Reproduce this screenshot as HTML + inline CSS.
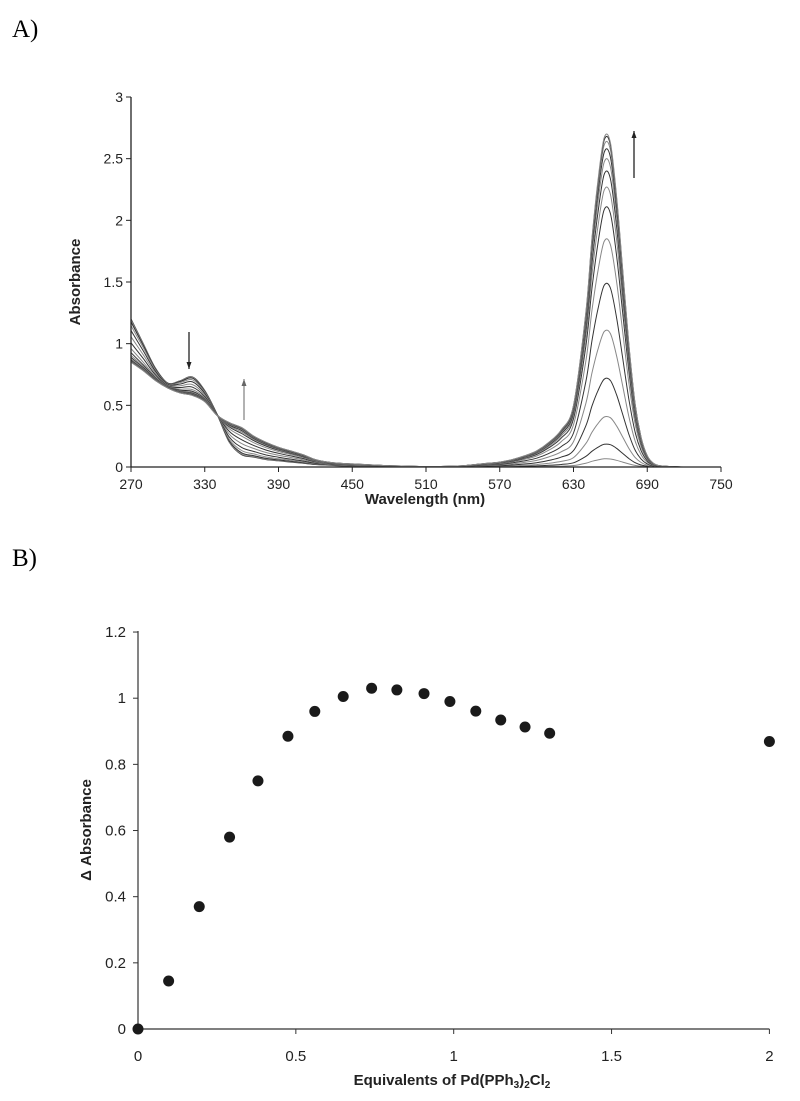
<!DOCTYPE html>
<html><head><meta charset="utf-8"><style>
body{margin:0;background:#fff;}
svg{display:block;font-family:"Liberation Sans",Arial,sans-serif;}
</style></head><body>
<svg width="800" height="1101" viewBox="0 0 800 1101" id="fig">
<text x="12" y="37" font-family="Liberation Serif,serif" font-size="25">A)</text>
<text x="12" y="566" font-family="Liberation Serif,serif" font-size="25">B)</text>
<g id="chartA"></g>
<g id="chartB"></g>
</svg>
<script>
const wavelengths=[270,280,290,300,310,320,330,340,350,360,370,380,390,400,410,420,430,440,450,460,470,480,490,500,510,520,530,540,550,560,570,580,590,600,610,620,630,640,645,650,655,660,665,670,675,680,685,690,695,700,710,720,750];
const startSpectrum=[1.2,1.0,0.8,0.68,0.7,0.73,0.62,0.43,0.2,0.1,0.08,0.06,0.05,0.04,0.03,0.02,0.015,0.01,0.008,0.006,0.005,0.004,0.003,0.002,0.001,0,0,0,0,0,0,0,0,0,0,0,0,0,0,0,0,0,0,0,0,0,0,0,0,0,0,0,0];
const endSpectrum=[0.85,0.78,0.7,0.64,0.6,0.58,0.53,0.42,0.36,0.32,0.25,0.2,0.16,0.13,0.1,0.06,0.04,0.03,0.025,0.02,0.015,0.01,0.008,0.005,0.004,0.004,0.006,0.01,0.02,0.03,0.04,0.06,0.09,0.13,0.2,0.3,0.5,1.25,1.85,2.33,2.67,2.63,2.2,1.6,1.0,0.52,0.24,0.09,0.03,0.01,0.003,0,0];
const peakHeights=[0,0.067,0.186,0.41,0.72,1.11,1.49,1.85,2.11,2.27,2.4,2.5,2.58,2.64,2.68,2.7];
const xTicksA=[270,330,390,450,510,570,630,690,750];
const yTicksA=[0,0.5,1,1.5,2,2.5,3];
const eqValues=[0,0.097,0.194,0.29,0.38,0.475,0.56,0.65,0.74,0.82,0.906,0.988,1.07,1.149,1.226,1.304,2.0];
const dAbsValues=[0,0.145,0.37,0.58,0.75,0.885,0.96,1.005,1.03,1.025,1.014,0.99,0.961,0.934,0.913,0.894,0.869];
const xTicksB=[0,0.5,1,1.5,2];
const yTicksB=[0,0.2,0.4,0.6,0.8,1,1.2];

const NS="http://www.w3.org/2000/svg";
function mk(parent,tag,attrs,text){const e=document.createElementNS(NS,tag);for(const k in attrs)e.setAttribute(k,attrs[k]);if(text!==undefined)e.textContent=text;parent.appendChild(e);return e;}
function smooth(pts){
  let d='M'+pts[0][0].toFixed(1)+','+pts[0][1].toFixed(1);
  for(let i=0;i<pts.length-1;i++){
    const p0=pts[i-1]||pts[i],p1=pts[i],p2=pts[i+1],p3=pts[i+2]||p2;
    const c1=[p1[0]+(p2[0]-p0[0])/6,p1[1]+(p2[1]-p0[1])/6];
    const c2=[p2[0]-(p3[0]-p1[0])/6,p2[1]-(p3[1]-p1[1])/6];
    d+='C'+c1[0].toFixed(1)+','+c1[1].toFixed(1)+' '+c2[0].toFixed(1)+','+c2[1].toFixed(1)+' '+p2[0].toFixed(1)+','+p2[1].toFixed(1);
  }
  return d;
}

// Chart A
const A=document.getElementById('chartA');
const xA=w=>131+(w-270)*(590/480);
const yA=v=>467-v*(370/3);
const maxPk=peakHeights[peakHeights.length-1];
peakHeights.forEach((p,i)=>{
  const f=p/maxPk;
  const pts=wavelengths.map((w,j)=>[xA(w),yA(startSpectrum[j]+f*(endSpectrum[j]-startSpectrum[j]))]);
  const pth=mk(A,'path',{d:smooth(pts),fill:'none',stroke:i%2?'#888':'#333','stroke-width':1});
  
  
});
const axA=mk(A,'path',{d:`M131,97V467H${xA(750)}`,fill:'none',stroke:'#222','stroke-width':1.3});


xTicksA.forEach(t=>{
  mk(A,'line',{x1:xA(t),x2:xA(t),y1:467,y2:472,stroke:'#222'});
  const tx=mk(A,'text',{x:xA(t),y:489,'font-size':14,'text-anchor':'middle',fill:'#222'},String(t));
  
  
});
yTicksA.forEach(t=>{
  mk(A,'line',{x1:126,x2:131,y1:yA(t),y2:yA(t),stroke:'#222'});
  const tx=mk(A,'text',{x:123,y:yA(t)+5,'font-size':14,'text-anchor':'end',fill:'#222'},String(t));
  
  
});
const tA=mk(A,'text',{x:425,y:504,'font-size':15,'font-weight':'bold','text-anchor':'middle',fill:'#222'},'Wavelength (nm)');


const yAt=mk(A,'text',{x:0,y:0,'font-size':15,'font-weight':'bold','text-anchor':'middle',fill:'#222',transform:'translate(80,282) rotate(-90)'},'Absorbance');


function arrow(x,y1,y2,col,w,name){const g=mk(A,'g',{});mk(g,'line',{x1:x,x2:x,y1:y1,y2:y2,stroke:col,'stroke-width':w});const s=y2>y1?-1:1;mk(g,'path',{d:`M${x},${y2}L${x-2.5},${y2+s*7}L${x+2.5},${y2+s*7}Z`,fill:col});}
arrow(189,332,369,'#222',1.3,'decrease-arrow');
arrow(244,420,379,'#666',1,'increase-arrow-uv');
arrow(634,178,131,'#222',1.3,'increase-arrow-vis');

// Chart B
const B=document.getElementById('chartB');
const xB=v=>138+v*315.7;
const yB=v=>1029-v*330.8;
const axB=mk(B,'path',{d:`M138,631V1029H${xB(2)}`,fill:'none',stroke:'#333','stroke-width':1.2});


xTicksB.forEach(t=>{
  mk(B,'line',{x1:xB(t),x2:xB(t),y1:1029,y2:1034,stroke:'#333'});
  const tx=mk(B,'text',{x:xB(t),y:1061,'font-size':15,'text-anchor':'middle',fill:'#222'},String(t));
  
  
});
yTicksB.forEach(t=>{
  mk(B,'line',{x1:133,x2:138,y1:yB(t),y2:yB(t),stroke:'#333'});
  const tx=mk(B,'text',{x:126,y:yB(t)+5,'font-size':15,'text-anchor':'end',fill:'#222'},String(t));
  
  
});
eqValues.forEach((e,i)=>{
  const c=mk(B,'circle',{cx:xB(e),cy:yB(dAbsValues[i]),r:5.5,fill:'#1a1a1a'});
  
  
});
const tB=mk(B,'text',{x:452,y:1085,'font-size':15,'font-weight':'bold','text-anchor':'middle',fill:'#222'},'');


tB.innerHTML='Equivalents of Pd(PPh<tspan font-size="10" dy="3">3</tspan><tspan dy="-3">)</tspan><tspan font-size="10" dy="3">2</tspan><tspan dy="-3">Cl</tspan><tspan font-size="10" dy="3">2</tspan>';
const yBt=mk(B,'text',{x:0,y:0,'font-size':15,'font-weight':'bold','text-anchor':'middle',fill:'#222',transform:'translate(91,830) rotate(-90)'},'Δ Absorbance');


</script>
</body></html>
